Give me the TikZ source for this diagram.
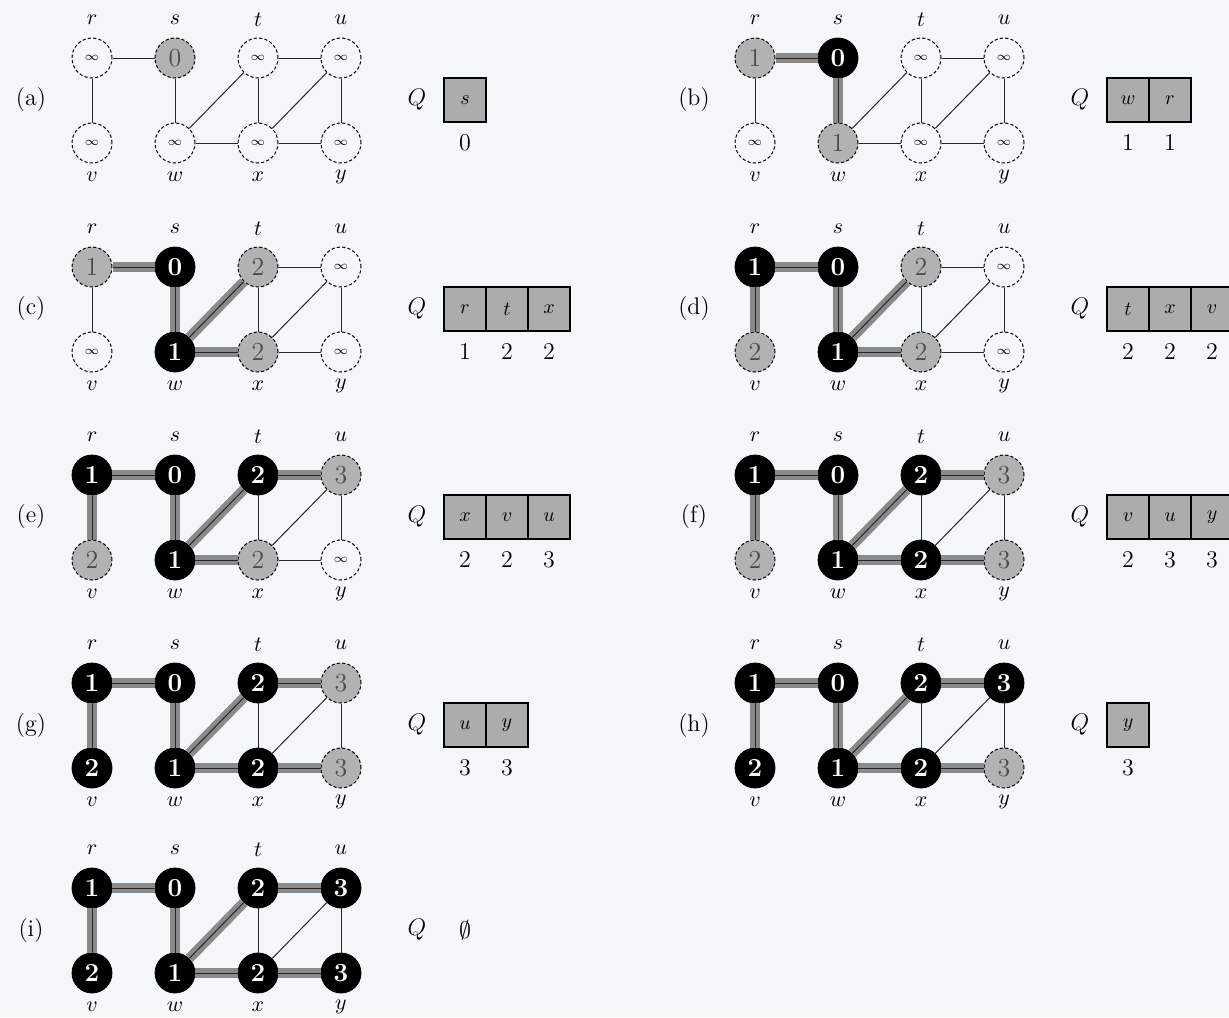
\documentclass[tikz,border=0pt]{standalone}
\usetikzlibrary{calc}
\definecolor{paper}{RGB}{243,247,249}
\definecolor{grayv}{RGB}{178,178,178}
\definecolor{treeg}{RGB}{138,138,138}
\definecolor{cellg}{RGB}{172,172,172}

% one stage of the search: tag, origin (vertex r), vertex states, tree edges, queue
\newcommand{\bfspanel}[5]{%
  \begin{scope}[shift={#2}]
    \node[plbl] (#1lab) at (-61,42) {(#1)};
    \foreach \vn/\px/\py/\ly in {r/0/0/-38,s/83/0/-38,t/166/0/-38,u/249/0/-38,v/0/85/119,w/83/85/119,x/166/85/119,y/249/85/119}{
      \coordinate (#1\vn p) at (\px,\py);
      \node[vlbl] (#1\vn l) at (\px,\ly) {$\vn$};
    }
    \foreach \vn/\vs/\vd in {#3} \node[\vs] (#1\vn) at (#1\vn p) {\vd};
    \foreach \ea/\eb in {#4} \draw[tree] (#1\ea) -- (#1\eb);
    \foreach \ea/\eb in {r/s,r/v,s/w,w/t,w/x,t/x,t/u,x/u,x/y,u/y} \draw[edge] (#1\ea) -- (#1\eb);
    \node[qlbl] (#1Q) at (325,42) {$Q$};
    \foreach \qc/\qd [count=\qi] in {#5}{
      \node[qcell] (#1q\qi) at ({331+42*\qi},42) {$\qc$};
      \node[qnum] (#1n\qi) at ({331+42*\qi},85) {\qd};
    }
  \end{scope}}

\begin{document}
\begin{tikzpicture}[x=0.5pt,y=-0.5pt]
\tikzstyle{wn}=[circle,draw,dash pattern=on 1.6pt off 1.1pt,line width=0.5pt,fill=paper,minimum size=20pt,inner sep=0pt,font=\fontsize{6}{7}\selectfont]
\tikzstyle{gn}=[circle,draw,dash pattern=on 1.6pt off 1.1pt,line width=0.5pt,fill=grayv,minimum size=20pt,inner sep=0pt,text=black!70,font=\fontsize{13}{15}\selectfont]
\tikzstyle{bn}=[circle,draw=black,fill=black,minimum size=20pt,inner sep=0pt,text=white,font=\fontsize{13}{15}\selectfont\bfseries]
\tikzstyle{edge}=[line width=0.5pt,black!85]
\tikzstyle{tree}=[line width=5pt,treeg]
\tikzstyle{vlbl}=[font=\fontsize{11}{13}\selectfont,inner sep=0pt]
\tikzstyle{plbl}=[font=\fontsize{12}{14}\selectfont]
\tikzstyle{qlbl}=[font=\fontsize{12}{14}\selectfont]
\tikzstyle{qcell}=[draw,line width=0.6pt,fill=cellg,minimum width=21pt,minimum height=22pt,inner sep=0pt,font=\fontsize{10}{12}\selectfont]
\tikzstyle{qnum}=[font=\fontsize{12}{14}\selectfont]
\useasboundingbox (0,0) rectangle (1229,1017);
\fill[paper] (0,0) rectangle (1229,1017);

\bfspanel{a}{(92,58)}
  {r/wn/$\infty$,s/gn/0,t/wn/$\infty$,u/wn/$\infty$,v/wn/$\infty$,w/wn/$\infty$,x/wn/$\infty$,y/wn/$\infty$}
  {}{s/0}
\bfspanel{b}{(755,58)}
  {r/gn/1,s/bn/0,t/wn/$\infty$,u/wn/$\infty$,v/wn/$\infty$,w/gn/1,x/wn/$\infty$,y/wn/$\infty$}
  {r/s,s/w}{w/1,r/1}
\bfspanel{c}{(92,267)}
  {r/gn/1,s/bn/0,t/gn/2,u/wn/$\infty$,v/wn/$\infty$,w/bn/1,x/gn/2,y/wn/$\infty$}
  {r/s,s/w,w/t,w/x}{r/1,t/2,x/2}
\bfspanel{d}{(755,267)}
  {r/bn/1,s/bn/0,t/gn/2,u/wn/$\infty$,v/gn/2,w/bn/1,x/gn/2,y/wn/$\infty$}
  {r/s,s/w,w/t,w/x,r/v}{t/2,x/2,v/2}
\bfspanel{e}{(92,475)}
  {r/bn/1,s/bn/0,t/bn/2,u/gn/3,v/gn/2,w/bn/1,x/gn/2,y/wn/$\infty$}
  {r/s,s/w,w/t,w/x,r/v,t/u}{x/2,v/2,u/3}
\bfspanel{f}{(755,475)}
  {r/bn/1,s/bn/0,t/bn/2,u/gn/3,v/gn/2,w/bn/1,x/bn/2,y/gn/3}
  {r/s,s/w,w/t,w/x,r/v,t/u,x/y}{v/2,u/3,y/3}
\bfspanel{g}{(92,683)}
  {r/bn/1,s/bn/0,t/bn/2,u/gn/3,v/bn/2,w/bn/1,x/bn/2,y/gn/3}
  {r/s,s/w,w/t,w/x,r/v,t/u,x/y}{u/3,y/3}
\bfspanel{h}{(755,683)}
  {r/bn/1,s/bn/0,t/bn/2,u/bn/3,v/bn/2,w/bn/1,x/bn/2,y/gn/3}
  {r/s,s/w,w/t,w/x,r/v,t/u,x/y}{y/3}
\bfspanel{i}{(92,888)}
  {r/bn/1,s/bn/0,t/bn/2,u/bn/3,v/bn/2,w/bn/1,x/bn/2,y/bn/3}
  {r/s,s/w,w/t,w/x,r/v,t/u,x/y}{}
\node[qlbl] (iempty) at ($(iQ)+(48,0)$) {$\emptyset$};
\end{tikzpicture}
\end{document}
